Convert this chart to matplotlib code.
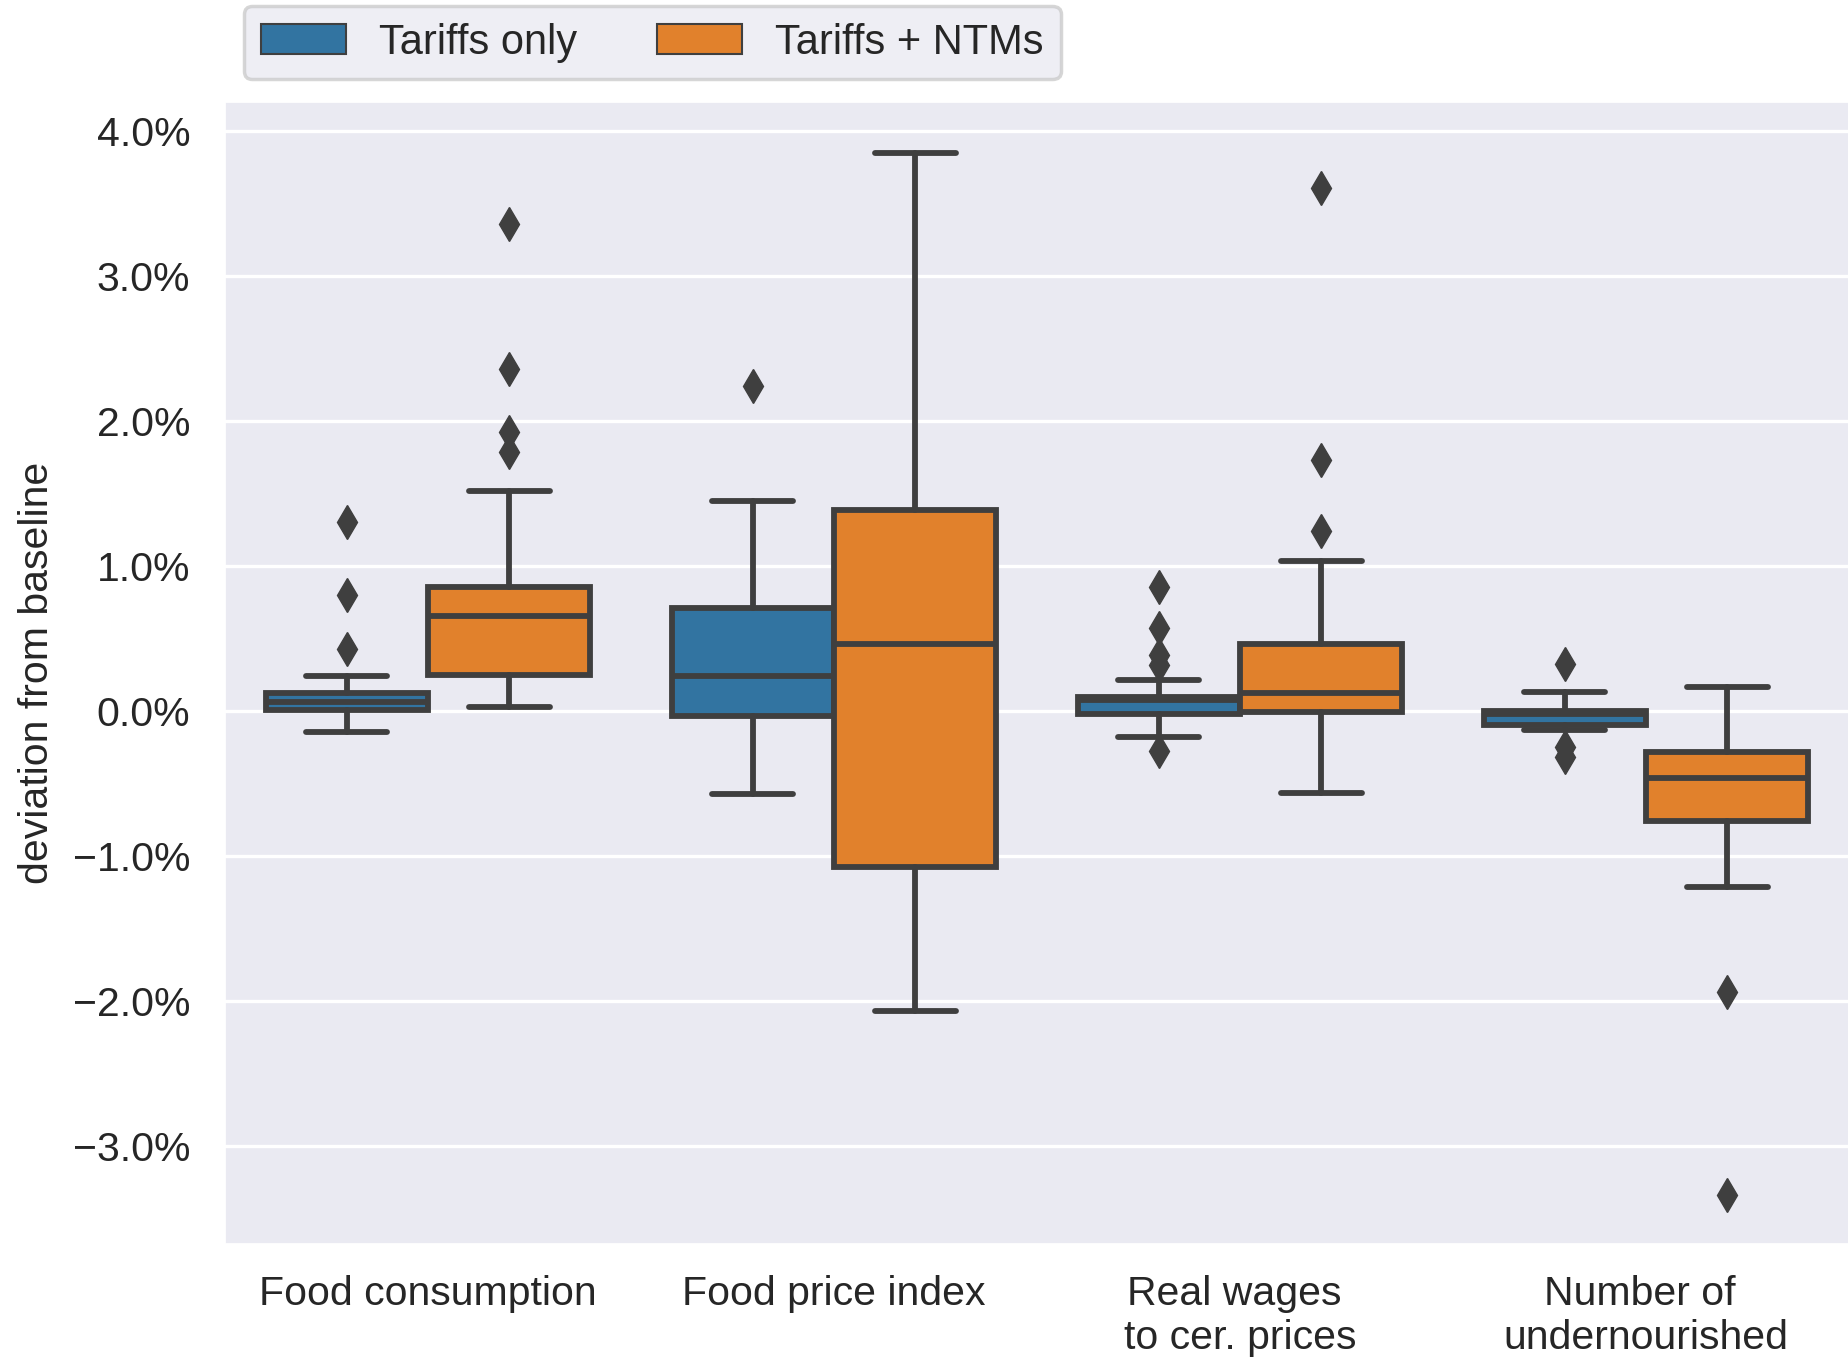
import matplotlib
matplotlib.use("Agg")
import matplotlib.pyplot as plt
import seaborn as sns
from matplotlib.patches import Patch
from matplotlib.ticker import FuncFormatter

# categories on the x axis
categories = ["Food consumption", "Food price index",
              "Real wages \nto cer. prices", "Number of \nundernourished"]

# Tariffs only (values in %)
tariffs_q1 = [0.005, -0.033, -0.019, -0.097]
tariffs_med = [0.06, 0.239, 0.074, -0.019]
tariffs_q3 = [0.124, 0.707, 0.097, 0.002]
tariffs_lo = [-0.145, -0.572, -0.177, -0.131]
tariffs_hi = [0.24, 1.451, 0.212, 0.129]
tariffs_fliers = [[1.305, 0.80, 0.43],
                  [2.24],
                  [0.853, 0.57, 0.386, 0.317, -0.274],
                  [0.324, -0.246, -0.315]]

# Tariffs + NTMs (values in %)
ntm_q1 = [0.246, -1.074, -0.008, -0.757]
ntm_med = [0.655, 0.465, 0.126, -0.459]
ntm_q3 = [0.853, 1.384, 0.463, -0.285]
ntm_lo = [0.028, -2.072, -0.567, -1.214]
ntm_hi = [1.52, 3.85, 1.033, 0.165]
ntm_fliers = [[3.359, 2.359, 1.926, 1.788],
              [],
              [3.605, 1.731, 1.241],
              [-1.939, -3.335]]

series_names = ["Tariffs only", "Tariffs + NTMs"]
colors = ["#3274a1", "#e1812c"]
gray = "#3f3f3f"

sns.set_theme(style="darkgrid")
plt.rcParams['font.family'] = ['Liberation Sans', 'DejaVu Sans']

fig = plt.figure(figsize=(18.49, 13.57), dpi=100)
ax = fig.add_axes([225/1849, 113/1357, 1 - 225/1849, (1244-102)/1357])

lw = 4.2

def make_stats(q1, med, q3, lo, hi, fl):
    out = []
    for i in range(len(q1)):
        out.append(dict(q1=q1[i], med=med[i], q3=q3[i], whislo=lo[i], whishi=hi[i], fliers=fl[i]))
    return out

groups = [make_stats(tariffs_q1, tariffs_med, tariffs_q3, tariffs_lo, tariffs_hi, tariffs_fliers),
          make_stats(ntm_q1, ntm_med, ntm_q3, ntm_lo, ntm_hi, ntm_fliers)]

for k in range(2):
    pos = [i - 0.2 + 0.4*k for i in range(len(categories))]
    ax.bxp(groups[k], positions=pos, widths=0.4, capwidths=0.2, patch_artist=True,
           boxprops=dict(facecolor=colors[k], edgecolor=gray, linewidth=lw),
           medianprops=dict(color=gray, linewidth=lw),
           whiskerprops=dict(color=gray, linewidth=lw),
           capprops=dict(color=gray, linewidth=lw, solid_capstyle='round'),
           flierprops=dict(marker='d', markersize=17, markerfacecolor=gray,
                           markeredgecolor=gray, markeredgewidth=1))

ax.set_xlim(-0.5, 3.5)
ax.set_ylim(-3.676, 4.2)
ax.set_yticks([-3, -2, -1, 0, 1, 2, 3, 4])
ax.yaxis.set_major_formatter(FuncFormatter(lambda v, p: ("%.1f%%" % v).replace("-", "\u2212")))
ax.set_xticks(range(len(categories)))
ax.set_xticklabels(categories, fontsize=29.5)
ax.tick_params(axis='x', pad=22.5, length=0)
ax.tick_params(axis='y', pad=25, length=0, labelsize=29.5)
ax.xaxis.grid(False)
ax.yaxis.grid(True, color='white', linewidth=2.4)
ax.set_axisbelow(True)
ax.set_ylabel("deviation from baseline", fontsize=29.5, labelpad=12)

handles = [Patch(facecolor=colors[k], edgecolor=gray, linewidth=1.5, label=series_names[k]) for k in range(2)]
leg = fig.legend(handles=handles, loc='upper left', bbox_to_anchor=(244/1849, 1 - 6/1357),
                 ncol=2, fontsize=30, handlelength=2.05, borderaxespad=0, columnspacing=1.9)
leg.get_frame().set_edgecolor('0.8')
leg.get_frame().set_linewidth(2.5)

fig.savefig("out.png", dpi=100)
